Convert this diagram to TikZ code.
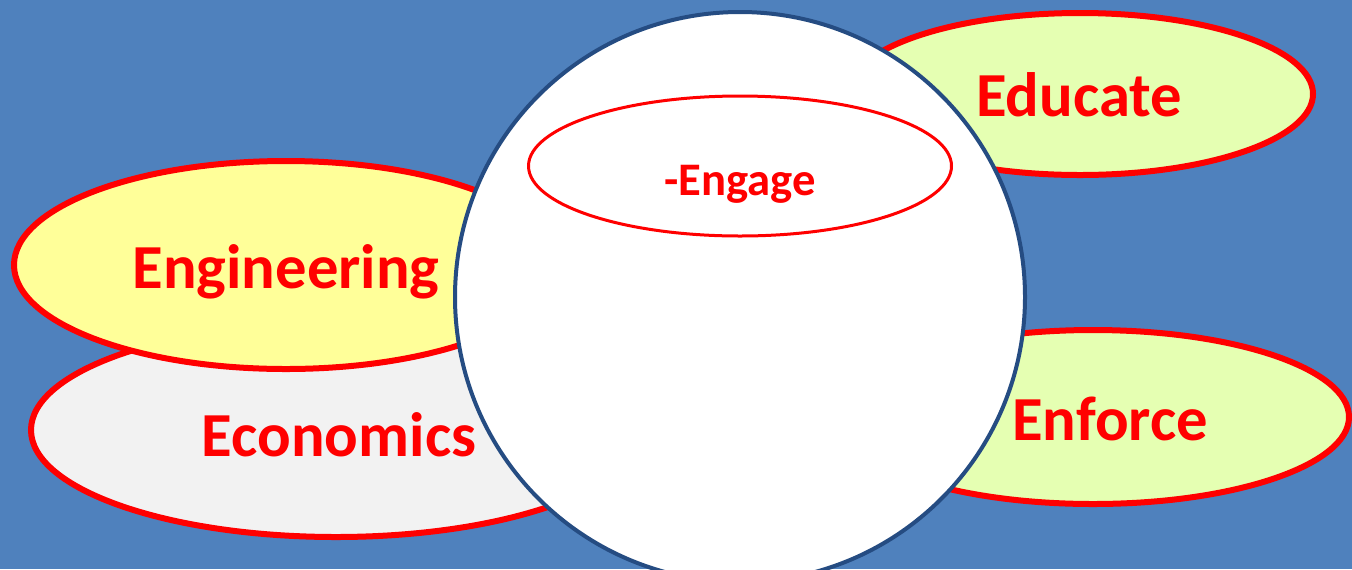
\documentclass[tikz,border=0pt]{standalone}
\usepackage{fontspec}
\setmainfont{Carlito}
\usetikzlibrary{shapes.geometric}
\definecolor{bgblue}{HTML}{4F81BD}
\definecolor{ringblue}{HTML}{254C82}
\definecolor{engyellow}{HTML}{FFFF99}
\definecolor{econgrey}{HTML}{F2F2F2}
\definecolor{edugreen}{HTML}{E5FFB2}
\begin{document}
\begin{tikzpicture}[x=0.75pt,y=-0.75pt,
        oval/.style={ellipse,draw=red,line width=4.5pt,inner sep=0pt},
        word/.style={anchor=base,text=red,inner sep=0pt,font=\bfseries\fontsize{47}{56}\selectfont}]
            \fill[bgblue] (0,0) rectangle (1352,569);
            \useasboundingbox (0,0) rectangle (1352,569);
            \clip (0,0) rectangle (1352,569);

            % the four outer fields
            \node (econ) at (336,430) [oval,fill=econgrey,minimum width=457.5pt,minimum height=160.5pt] {};
            \node (eng) at (286,265) [oval,fill=engyellow,minimum width=408pt,minimum height=156pt] {};
            \node (edu) at (1080,94) [oval,fill=edugreen,minimum width=349.5pt,minimum height=121.5pt] {};
            \node (enf) at (1093,417) [oval,fill=edugreen,minimum width=384pt,minimum height=130.5pt] {};

            \node (econtxt) at (339,456) [word] {Economics};
            \node (engtxt) at (286,288) [word] {Engineering};
            \node (edutxt) at (1079,116) [word] {Educate};
            \node (enftxt) at (1110,440) [word] {Enforce};

            % centre
            \node (hub) at (740,297) [circle,draw=ringblue,line width=3pt,fill=white,inner sep=0pt,minimum size=427.5pt] {};
            \node (engage) at (740,166) [ellipse,draw=red,line width=2.25pt,inner sep=0pt,minimum width=317.25pt,minimum height=105pt] {};
            \node (engagetxt) at (740,195) [word,font=\bfseries\fontsize{35}{42}\selectfont] {-Engage};

        \end{tikzpicture}
\end{document}
